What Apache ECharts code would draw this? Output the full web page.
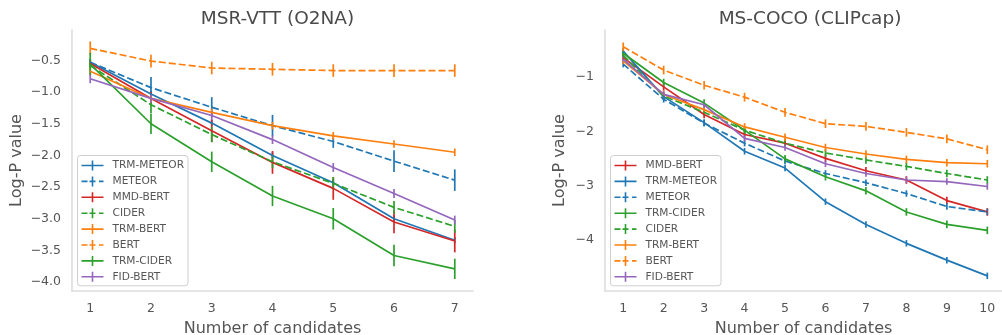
<!DOCTYPE html>
<html>
<head>
<meta charset="utf-8">
<script src="https://cdn.jsdelivr.net/npm/echarts@6/dist/echarts.min.js"></script>
<style>html,body{margin:0;padding:0;background:#fff}#c{width:1002px;height:335px}</style>
</head>
<body>
<div id="c"></div>
<script>
// ---------- DATA ----------
const xMsrvtt = [1, 2, 3, 4, 5, 6, 7];
const xMscoco = [1, 2, 3, 4, 5, 6, 7, 8, 9, 10];
const leftTitle = 'MSR-VTT (O2NA)';
const rightTitle = 'MS-COCO (CLIPcap)';
const yAxisName = 'Log-P value';
const xAxisName = 'Number of candidates';

const leftOrder = ['TRM-METEOR', 'METEOR', 'MMD-BERT', 'CIDER', 'TRM-BERT', 'BERT', 'TRM-CIDER', 'FID-BERT'];
const rightOrder = ['MMD-BERT', 'TRM-METEOR', 'METEOR', 'TRM-CIDER', 'CIDER', 'TRM-BERT', 'BERT', 'FID-BERT'];

// MSR-VTT (O2NA) means and error half-widths
const msrvttTrmMeteor = [-0.53, -1.03, -1.49, -2.00, -2.43, -3.00, -3.34];
const msrvttTrmMeteorErr = [0.05, 0.05, 0.05, 0.05, 0.05, 0.05, 0.05];
const msrvttMeteor = [-0.53, -0.93, -1.24, -1.53, -1.78, -2.09, -2.39];
const msrvttMeteorErr = [0.05, 0.17, 0.16, 0.17, 0.10, 0.17, 0.17];
const msrvttMmdBert = [-0.55, -1.10, -1.61, -2.11, -2.52, -3.05, -3.35];
const msrvttMmdBertErr = [0.05, 0.10, 0.18, 0.18, 0.18, 0.18, 0.18];
const msrvttCider = [-0.58, -1.20, -1.67, -2.10, -2.44, -2.82, -3.12];
const msrvttCiderErr = [0.05, 0.13, 0.12, 0.10, 0.10, 0.10, 0.10];
const msrvttTrmBert = [-0.67, -1.10, -1.32, -1.53, -1.69, -1.82, -1.95];
const msrvttTrmBertErr = [0.06, 0.06, 0.06, 0.06, 0.06, 0.06, 0.06];
const msrvttBert = [-0.31, -0.51, -0.62, -0.64, -0.66, -0.66, -0.66];
const msrvttBertErr = [0.11, 0.10, 0.10, 0.10, 0.10, 0.10, 0.10];
const msrvttTrmCider = [-0.56, -1.50, -2.10, -2.64, -3.00, -3.58, -3.79];
const msrvttTrmCiderErr = [0.18, 0.16, 0.16, 0.16, 0.17, 0.17, 0.16];
const msrvttFidBert = [-0.79, -1.10, -1.37, -1.75, -2.19, -2.60, -3.02];
const msrvttFidBertErr = [0.07, 0.07, 0.07, 0.07, 0.07, 0.07, 0.07];

// MS-COCO (CLIPcap) means and error half-widths
const mscocoMmdBert = [-0.64, -1.18, -1.69, -2.06, -2.22, -2.50, -2.73, -2.90, -3.28, -3.49];
const mscocoMmdBertErr = [0.07, 0.07, 0.07, 0.07, 0.07, 0.07, 0.07, 0.07, 0.07, 0.07];
const mscocoTrmMeteor = [-0.52, -1.36, -1.84, -2.37, -2.68, -3.30, -3.72, -4.07, -4.38, -4.67];
const mscocoTrmMeteorErr = [0.06, 0.06, 0.06, 0.06, 0.06, 0.06, 0.06, 0.06, 0.06, 0.06];
const mscocoMeteor = [-0.76, -1.41, -1.85, -2.22, -2.55, -2.78, -2.95, -3.15, -3.39, -3.49];
const mscocoMeteorErr = [0.06, 0.06, 0.06, 0.06, 0.06, 0.06, 0.06, 0.06, 0.06, 0.06];
const mscocoTrmCider = [-0.56, -1.10, -1.48, -1.98, -2.51, -2.84, -3.10, -3.49, -3.72, -3.83];
const mscocoTrmCiderErr = [0.07, 0.07, 0.07, 0.07, 0.07, 0.07, 0.07, 0.07, 0.07, 0.07];
const mscocoCider = [-0.60, -1.35, -1.65, -1.98, -2.22, -2.40, -2.53, -2.65, -2.78, -2.90];
const mscocoCiderErr = [0.07, 0.07, 0.07, 0.07, 0.07, 0.07, 0.07, 0.07, 0.07, 0.07];
const mscocoTrmBert = [-0.70, -1.32, -1.60, -1.92, -2.11, -2.30, -2.42, -2.52, -2.58, -2.60];
const mscocoTrmBertErr = [0.07, 0.07, 0.07, 0.07, 0.07, 0.07, 0.07, 0.07, 0.07, 0.07];
const mscocoBert = [-0.44, -0.87, -1.15, -1.37, -1.65, -1.86, -1.91, -2.02, -2.14, -2.34];
const mscocoBertErr = [0.08, 0.08, 0.08, 0.08, 0.08, 0.08, 0.08, 0.08, 0.08, 0.08];
const mscocoFidBert = [-0.67, -1.32, -1.51, -2.13, -2.30, -2.60, -2.78, -2.90, -2.93, -3.02];
const mscocoFidBertErr = [0.06, 0.06, 0.06, 0.06, 0.06, 0.06, 0.06, 0.06, 0.06, 0.06];

const msrvttSeries = {
  'TRM-METEOR': [msrvttTrmMeteor, msrvttTrmMeteorErr],
  'METEOR': [msrvttMeteor, msrvttMeteorErr],
  'MMD-BERT': [msrvttMmdBert, msrvttMmdBertErr],
  'CIDER': [msrvttCider, msrvttCiderErr],
  'TRM-BERT': [msrvttTrmBert, msrvttTrmBertErr],
  'BERT': [msrvttBert, msrvttBertErr],
  'TRM-CIDER': [msrvttTrmCider, msrvttTrmCiderErr],
  'FID-BERT': [msrvttFidBert, msrvttFidBertErr]
};
const mscocoSeries = {
  'MMD-BERT': [mscocoMmdBert, mscocoMmdBertErr],
  'TRM-METEOR': [mscocoTrmMeteor, mscocoTrmMeteorErr],
  'METEOR': [mscocoMeteor, mscocoMeteorErr],
  'TRM-CIDER': [mscocoTrmCider, mscocoTrmCiderErr],
  'CIDER': [mscocoCider, mscocoCiderErr],
  'TRM-BERT': [mscocoTrmBert, mscocoTrmBertErr],
  'BERT': [mscocoBert, mscocoBertErr],
  'FID-BERT': [mscocoFidBert, mscocoFidBertErr]
};

// ---------- STYLE ----------
const styleOf = {
  'TRM-METEOR': { color: '#1f77b4', dashed: false },
  'METEOR': { color: '#1f77b4', dashed: true },
  'MMD-BERT': { color: '#d62728', dashed: false },
  'CIDER': { color: '#2ca02c', dashed: true },
  'TRM-BERT': { color: '#ff7f0e', dashed: false },
  'BERT': { color: '#ff7f0e', dashed: true },
  'TRM-CIDER': { color: '#2ca02c', dashed: false },
  'FID-BERT': { color: '#9467bd', dashed: false }
};
const TEXT = '#555555';
const SPINE = '#dddddd';
const FONT = 'DejaVu Sans';
const LW = 1.7;

const iconSolid = 'path://M0,4.2h22v1.6h-22z M10.2,0h1.6v10h-1.6z';
const iconDashed = 'path://M0,4.2h6v1.6h-6z M8,4.2h6v1.6h-6z M17.5,4.2h4.5v1.6h-4.5z M10.2,0h1.6v10h-1.6z';

function minusFmt(d) {
  return function (v) {
    return v.toFixed(d).replace('-', '\u2212');
  };
}

function buildSeries(xs, dict, order, axisIdx) {
  const out = [];
  order.forEach(function (name) {
    const vals = dict[name][0], errs = dict[name][1];
    const st = styleOf[name];
    out.push({
      type: 'line', name: name, xAxisIndex: axisIdx, yAxisIndex: axisIdx,
      data: xs.map(function (x, i) { return [x, vals[i]]; }),
      symbol: 'none', silent: true, animation: false,
      lineStyle: { color: st.color, width: LW, type: st.dashed ? [7, 3] : 'solid' },
      itemStyle: { color: st.color }
    });
    out.push({
      type: 'custom', name: name, xAxisIndex: axisIdx, yAxisIndex: axisIdx,
      silent: true, animation: false,
      encode: { x: 0, y: [1, 2] },
      data: xs.map(function (x, i) { return [x, vals[i] - errs[i], vals[i] + errs[i]]; }),
      renderItem: function (params, api) {
        const p1 = api.coord([api.value(0), api.value(1)]);
        const p2 = api.coord([api.value(0), api.value(2)]);
        return { type: 'line', shape: { x1: p1[0], y1: p1[1], x2: p2[0], y2: p2[1] },
          style: { stroke: st.color, lineWidth: LW } };
      }
    });
  });
  return out;
}

function legendFor(order, left) {
  return {
    orient: 'vertical', left: left, top: 155.5,
    padding: [4, 4, 3, 4], itemGap: 3.9, itemWidth: 22, itemHeight: 10,
    borderColor: '#cfcfcf', borderWidth: 1, borderRadius: 3,
    backgroundColor: 'rgba(255,255,255,0.85)',
    selectedMode: false, symbolKeepAspect: false,
    textStyle: { color: TEXT, fontSize: 10.6, fontFamily: FONT, lineHeight: 12, padding: [0, 0, 0, 4] },
    data: order.map(function (n) { return { name: n, icon: styleOf[n].dashed ? iconDashed : iconSolid, itemStyle: { color: styleOf[n].color } }; })
  };
}

const axisCommon = {
  type: 'value',
  axisLine: { show: true, onZero: false, lineStyle: { color: SPINE, width: 1.6 } },
  axisTick: { show: false },
  splitLine: { show: false },
  nameTextStyle: { color: TEXT, fontSize: 16, fontFamily: FONT },
  nameLocation: 'middle'
};

function xAxisDef(idx, min, max) {
  return Object.assign({}, axisCommon, {
    gridIndex: idx, min: min, max: max, minInterval: 1, maxInterval: 1,
    name: xAxisName, nameGap: 30,
    axisLabel: { color: TEXT, fontSize: 12.5, fontFamily: FONT, margin: 11, showMinLabel: false, showMaxLabel: false,
      formatter: function (v) { return Math.abs(v - Math.round(v)) < 1e-6 ? String(Math.round(v)) : ''; } }
  });
}
function yAxisDef(idx, min, max, step, dec, gap) {
  return Object.assign({}, axisCommon, {
    gridIndex: idx, min: min, max: max, minInterval: step, maxInterval: step,
    name: yAxisName, nameGap: gap, nameRotate: 90,
    axisLabel: { color: TEXT, fontSize: 12.5, fontFamily: FONT, margin: 11, showMinLabel: false, showMaxLabel: false,
      formatter: function (v) { return Math.abs(v / step - Math.round(v / step)) < 1e-6 ? minusFmt(dec)(v) : ''; } }
  });
}

const chart = echarts.init(document.getElementById('c'), null, { renderer: 'canvas' });
chart.setOption({
  animation: false,
  backgroundColor: '#ffffff',
  title: [
    { text: leftTitle, left: 272.5, top: 5, textAlign: 'center',
      textStyle: { color: '#4a4a4a', fontSize: 18.5, fontWeight: 'normal', fontFamily: FONT } },
    { text: rightTitle, left: 805, top: 5, textAlign: 'center',
      textStyle: { color: '#4a4a4a', fontSize: 18.5, fontWeight: 'normal', fontFamily: FONT } }
  ],
  grid: [
    { left: 72, top: 30, width: 401, height: 261, containLabel: false, outerBoundsMode: 'none' },
    { left: 605, top: 30, width: 397, height: 261, containLabel: false, outerBoundsMode: 'none' }
  ],
  xAxis: [xAxisDef(0, 0.7, 7.3), xAxisDef(1, 0.55, 10.363)],
  yAxis: [yAxisDef(0, -4.14, -0.02, 0.5, 1, 47), yAxisDef(1, -4.95, -0.13, 1, 0, 37)],
  legend: [legendFor(leftOrder, 77.5), legendFor(rightOrder, 610.5)],
  series: buildSeries(xMsrvtt, msrvttSeries, leftOrder, 0).concat(buildSeries(xMscoco, mscocoSeries, rightOrder, 1))
});
</script>
</body>
</html>
